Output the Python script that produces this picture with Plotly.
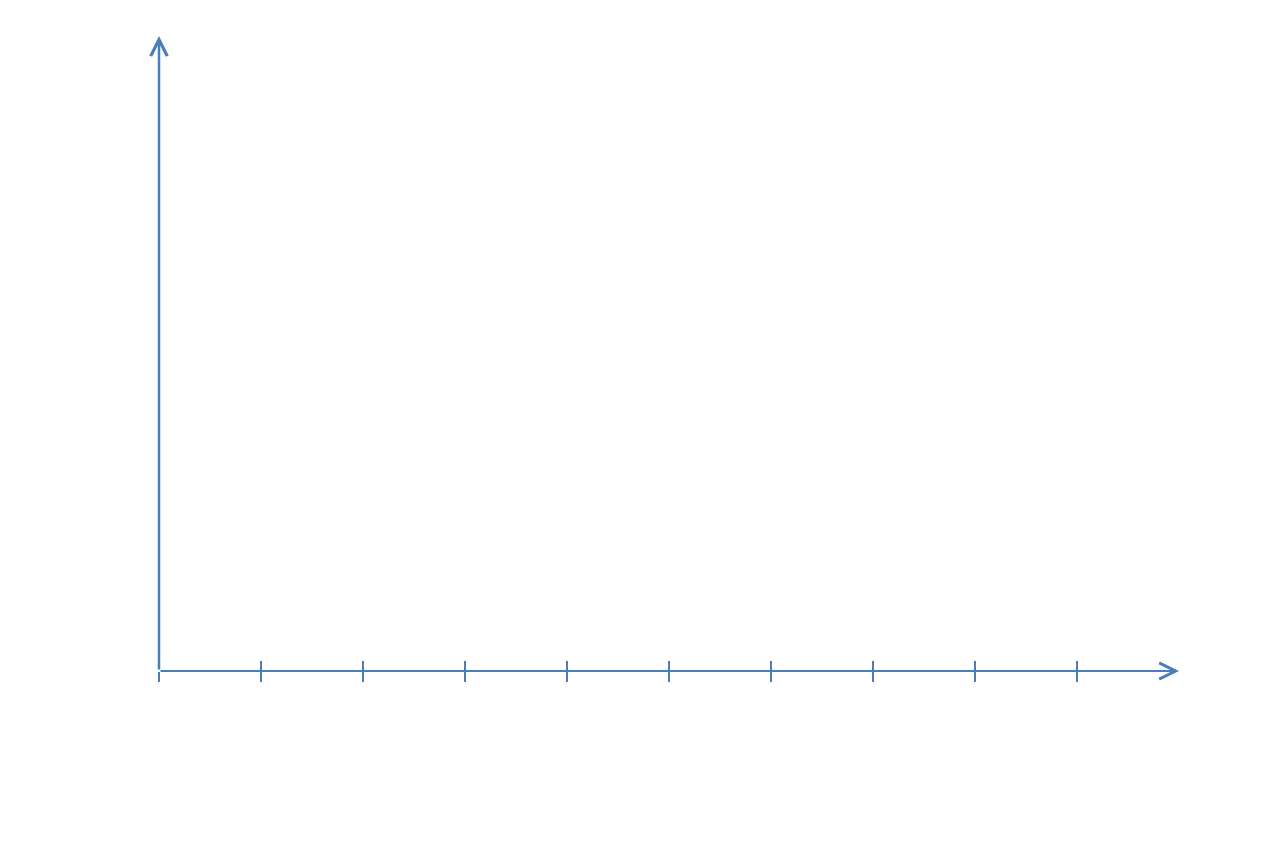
import plotly.graph_objects as go

# Axis extents and tick positions (empty chart, axes only)
x_range = [0, 10]
y_range = [0, 10]
x_ticks = [0, 1, 2, 3, 4, 5, 6, 7, 8, 9]

axis_blue = "#4a7ebb"

fig = go.Figure()

# invisible traces so both x axes (ticks below and above the line) get drawn
fig.add_trace(go.Scatter(x=[], y=[], mode="markers", showlegend=False))
fig.add_trace(go.Scatter(x=[], y=[], mode="markers", showlegend=False, xaxis="x2"))

common_x = dict(
    range=x_range,
    tickvals=x_ticks,
    showticklabels=False,
    showgrid=False,
    zeroline=False,
    showline=False,
    tickcolor=axis_blue,
    tickwidth=1.8,
    ticklen=10,
    fixedrange=True,
)

# the page body adds 8px at the top/left, margins are trimmed for it
fig.update_layout(
    width=1282,
    height=853,
    margin=dict(l=151, r=111, t=28, b=190),
    paper_bgcolor="white",
    plot_bgcolor="white",
    showlegend=False,
    xaxis=dict(**common_x, ticks="outside"),
    xaxis2=dict(**common_x, ticks="inside", overlaying="x", anchor="y", side="bottom"),
    yaxis=dict(
        range=y_range,
        showticklabels=False,
        showgrid=False,
        zeroline=False,
        showline=False,
        ticks="",
        fixedrange=True,
    ),
)

# axis lines drawn as arrows (open chevron heads)
arrow_style = dict(
    showarrow=True,
    arrowhead=5,
    arrowsize=1.6,
    arrowwidth=2,
    arrowcolor=axis_blue,
    standoff=0,
    startstandoff=0,
    text="",
    xref="x",
    yref="y",
    axref="x",
    ayref="y",
)
fig.add_annotation(x=x_range[1], y=0, ax=0, ay=0, **arrow_style)
fig.add_annotation(x=0, y=y_range[1], ax=0, ay=0, **{**arrow_style, "arrowwidth": 2.5, "arrowsize": 1.3})

fig.write_html("out.html")
